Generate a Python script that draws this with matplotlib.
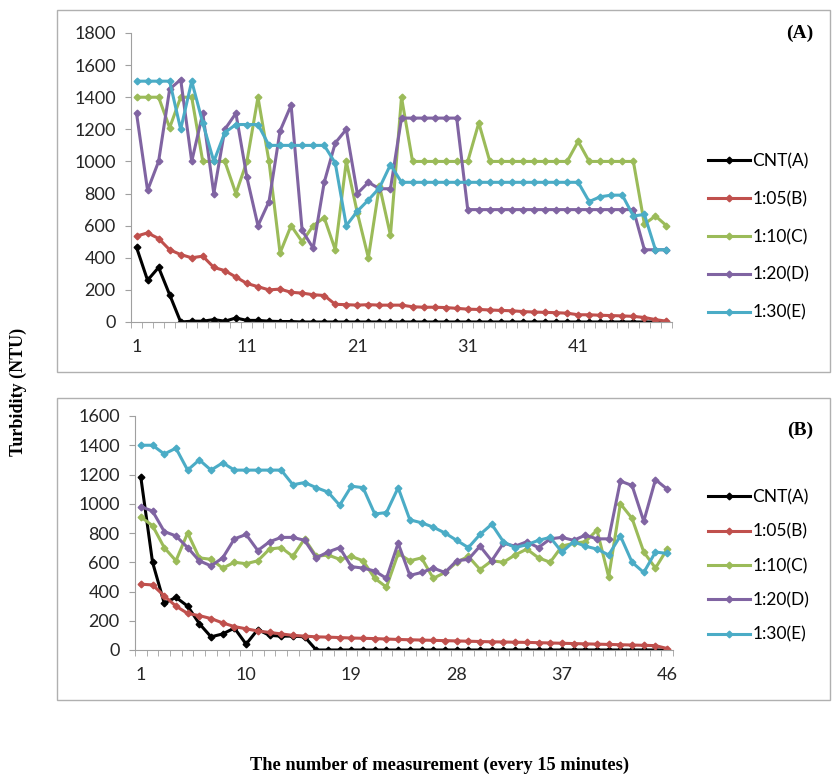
import matplotlib
matplotlib.use("Agg")
import matplotlib.pyplot as plt
from matplotlib.patches import Rectangle
import numpy as np

W, H = 832, 777

SERIES = ["CNT(A)", "1:05(B)", "1:10(C)", "1:20(D)", "1:30(E)"]
COLORS = ["#000000", "#c0504d", "#9bbb59", "#8064a2", "#4bacc6"]

# panel (A): 49 measurements
A_CNT = [465, 260, 340, 170, 0, 5, 5, 15, 5, 25, 10, 10, 5, 3, 3, 0, 0, 0, 0, 0,
         0, 0, 0, 0, 0, 0, 0, 0, 0, 0, 0, 0, 0, 0, 0, 0, 0, 0, 0, 0,
         0, 0, 0, 0, 0, 0, 0, 0, 0]
A_105 = [535, 555, 520, 450, 420, 400, 410, 340, 320, 280, 240, 220, 200, 205, 185, 180, 170, 165, 110, 108,
         105, 108, 105, 105, 105, 95, 92, 92, 90, 85, 80, 78, 75, 72, 70, 65, 62, 60, 58, 55,
         45, 45, 42, 40, 38, 35, 28, 15, 5]
A_110 = [1400, 1400, 1400, 1210, 1400, 1400, 1000, 1000, 1000, 800, 1000, 1400, 1000, 430, 600, 500, 600, 650, 450, 1000,
         680, 400, 850, 540, 1400, 1000, 1000, 1000, 1000, 1000, 1000, 1240, 1000, 1000, 1000, 1000, 1000, 1000, 1000, 1000,
         1125, 1000, 1000, 1000, 1000, 1000, 610, 660, 600]
A_120 = [1300, 820, 1000, 1450, 1510, 1000, 1300, 800, 1200, 1300, 900, 600, 750, 1190, 1350, 570, 460, 870, 1115, 1200,
         800, 870, 830, 830, 1270, 1270, 1270, 1270, 1270, 1270, 700, 700, 700, 700, 700, 700, 700, 700, 700, 700,
         700, 700, 700, 700, 700, 700, 450, 450, 450]
A_130 = [1500, 1500, 1500, 1500, 1200, 1500, 1240, 1000, 1180, 1230, 1230, 1230, 1100, 1100, 1100, 1100, 1100, 1100, 990, 600,
         690, 760, 835, 980, 870, 870, 870, 870, 870, 870, 870, 870, 870, 870, 870, 870, 870, 870, 870, 870,
         870, 750, 780, 790, 790, 660, 670, 450, 450]

# panel (B): 46 measurements
B_CNT = [1180, 600, 320, 360, 300, 180, 90, 110, 150, 40, 140, 100, 95, 95, 90, 0, 0, 0, 0, 0,
         0, 0, 0, 0, 0, 0, 0, 0, 0, 0, 0, 0, 0, 0, 0, 0, 0, 0, 0, 0,
         0, 0, 0, 0, 0, 0]
B_105 = [450, 445, 370, 300, 250, 235, 215, 185, 160, 145, 130, 120, 110, 100, 95, 90, 88, 85, 82, 80,
         78, 75, 72, 70, 68, 66, 64, 62, 60, 58, 56, 55, 53, 52, 50, 48, 46, 44, 42, 40,
         38, 36, 34, 32, 30, 10]
B_110 = [910, 850, 700, 610, 800, 630, 620, 560, 600, 590, 610, 690, 700, 640, 760, 640, 650, 620, 640, 610,
         490, 430, 660, 610, 630, 490, 530, 600, 640, 550, 610, 600, 650, 690, 630, 600, 710, 730, 740, 820,
         500, 1000, 900, 670, 560, 690]
B_120 = [980, 950, 810, 780, 700, 610, 575, 630, 760, 790, 680, 740, 770, 770, 750, 630, 670, 700, 570, 560,
         540, 490, 730, 510, 530, 560, 530, 610, 620, 710, 610, 730, 710, 740, 700, 760, 770, 750, 785, 760,
         760, 1155, 1125, 880, 1165, 1100]
B_130 = [1400, 1400, 1340, 1380, 1230, 1300, 1230, 1280, 1230, 1230, 1230, 1230, 1230, 1130, 1145, 1110, 1080, 990, 1120, 1110,
         930, 940, 1110, 890, 870, 840, 800, 750, 700, 790, 860, 740, 700, 720, 750, 770, 670, 740, 710, 690,
         650, 780, 600, 530, 670, 660]

A_TICKS = [1, 11, 21, 31, 41]
B_TICKS = [1, 10, 19, 28, 37, 46]

TICK_FONT = "Lato"
SERIF = "Liberation Serif"


def px_rect(x0, y0, x1, y1):
    # pixel box (top-left origin) -> figure fraction [l, b, w, h]
    return [x0 / W, 1 - y1 / H, (x1 - x0) / W, (y1 - y0) / H]


def draw_panel(ax, data, ymax, ticks):
    n = len(data[0])
    x = np.arange(1, n + 1)
    handles = []
    for vals, color, label in zip(data, COLORS, SERIES):
        h, = ax.plot(x, vals, color=color, lw=2.2, marker="D", ms=3.4, mec=color, mfc=color, label=label)
        handles.append(h)
    ax.set_xlim(0.5, n + 0.5)
    ax.set_ylim(0, ymax)
    ax.set_yticks(np.arange(0, ymax + 1, 200))
    ax.set_xticks(ticks)
    ax.set_xticks(np.arange(0.5, n + 1, 1), minor=True)
    ax.tick_params(axis="x", which="major", length=0, pad=12, labelsize=13, labelcolor="#262626")
    ax.tick_params(axis="x", which="minor", length=4, color="#a0a0a0", direction="out")
    ax.tick_params(axis="y", length=4, color="#a0a0a0", labelsize=13, labelcolor="#262626", pad=7)
    for lab in ax.get_xticklabels() + ax.get_yticklabels():
        lab.set_family(TICK_FONT)
    for side in ["top", "right"]:
        ax.spines[side].set_visible(False)
    ax.spines["left"].set_color("#a0a0a0")
    ax.spines["bottom"].set_color("#a0a0a0")
    return handles


fig = plt.figure(figsize=(W / 100, H / 100), dpi=100)

# chart borders
for box in [(57, 10, 830, 372), (57, 398, 830, 700)]:
    l, b, w, h = px_rect(*box)
    fig.add_artist(Rectangle((l, b), w, h, transform=fig.transFigure, fill=False, ec="#b0b0b0", lw=1))

ax_a = fig.add_axes(px_rect(131, 33, 672, 322))
ax_b = fig.add_axes(px_rect(135, 416, 673, 650))

ha = draw_panel(ax_a, [A_CNT, A_105, A_110, A_120, A_130], 1800, A_TICKS)
hb = draw_panel(ax_b, [B_CNT, B_105, B_110, B_120, B_130], 1600, B_TICKS)

leg_kw = dict(loc="center left", bbox_transform=fig.transFigure, frameon=False, handlelength=2.4,
              handletextpad=0.15, borderpad=0, borderaxespad=0, prop={"family": TICK_FONT, "size": 12.5})
ax_a.legend(handles=ha, bbox_to_anchor=(708 / W, 1 - 237 / H), labelspacing=1.25, **leg_kw)
ax_b.legend(handles=hb, bbox_to_anchor=(708 / W, 1 - 566 / H), labelspacing=1.05, **leg_kw)

fig.text(800 / W, 1 - 33 / H, "(A)", family=SERIF, weight="bold", fontsize=14, ha="center", va="center")
fig.text(800 / W, 1 - 430 / H, "(B)", family=SERIF, weight="bold", fontsize=14, ha="center", va="center")
fig.text(18 / W, 1 - 392 / H, "Turbidity (NTU)", family=SERIF, weight="bold", fontsize=13,
         rotation=90, ha="center", va="center")
fig.text(440 / W, 1 - 765 / H, "The number of measurement (every 15 minutes)", family=SERIF, weight="bold",
         fontsize=13.2, ha="center", va="center")

fig.savefig("out.png", dpi=100)
